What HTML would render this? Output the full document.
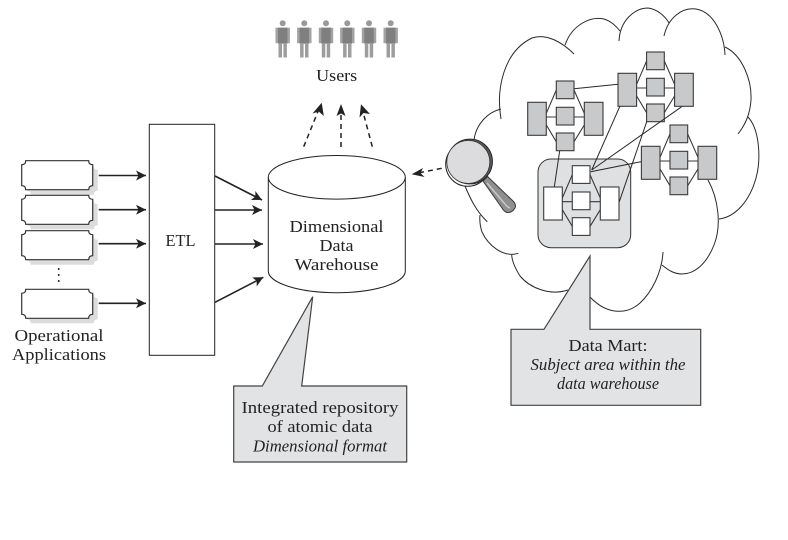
<!DOCTYPE html>
<html>
<head>
<meta charset="utf-8">
<style>
html,body{margin:0;padding:0;background:#fff;}
svg{display:block;}
text{font-family:"Liberation Serif",serif;font-size:16.5px;fill:#222;text-anchor:middle;}
.i{font-style:italic;}
</style>
</head>
<body>
<svg width="788" height="540" viewBox="0 0 788 540" xmlns="http://www.w3.org/2000/svg">
<defs>
  <marker id="a" markerWidth="12" markerHeight="10" refX="10" refY="5" orient="auto" markerUnits="userSpaceOnUse">
    <path d="M0,0 L10,5 L0,10 L2.5,5 Z" fill="#222"/>
  </marker>
  <path id="nb" d="M4,0 H67 Q67,4 71,4 V25 Q67,25 67,29 H4 Q4,25 0,25 V4 Q4,4 4,0 Z"/>
  <g id="app">
    <use href="#nb" x="5" y="5" fill="#dcdcdc"/>
    <use href="#nb" fill="#fff" stroke="#333" stroke-width="1.2"/>
  </g>
  <g id="mini" stroke="#3a3a3a" stroke-width="1.1">
    <path fill="none" d="M546.3,113.3 L556.3,90 M546.3,125 L556.3,141.7 M546.3,117 H556.3 M574,90 L584.3,113.3 M574,141.7 L584.3,125 M574,117 H584.3"/>
    <rect x="527.7" y="102.3" width="18.6" height="33"/>
    <rect x="584.3" y="102.3" width="18.7" height="33"/>
    <rect x="556.3" y="81" width="17.7" height="17.7"/>
    <rect x="556.3" y="107.3" width="17.7" height="17.7"/>
    <rect x="556.3" y="133" width="17.7" height="17.7"/>
  </g>
  <g id="man">
    <circle cx="0" cy="23.3" r="3" fill="#999"/>
    <rect x="-7.2" y="27.7" width="14.4" height="15.5" fill="#a2a2a2"/>
    <rect x="-4.7" y="27.7" width="9.4" height="16" fill="#7f7f7f"/>
    <rect x="-4.2" y="43" width="3.5" height="14.5" fill="#9d9d9d"/>
    <rect x="0.7" y="43" width="3.5" height="14.5" fill="#9d9d9d"/>
  </g>
</defs>

<!-- Users -->
<use href="#man" x="282.7"/><use href="#man" x="304.3"/><use href="#man" x="326"/>
<use href="#man" x="347.3"/><use href="#man" x="369"/><use href="#man" x="390.7"/>
<text x="336.7" y="81" textLength="41" lengthAdjust="spacingAndGlyphs">Users</text>

<!-- Cloud -->
<g fill="none" stroke="#2a2a2a" stroke-width="1">
  <path d="M501,119 C496,90 503,52 532,38 C546,33 562,42 574,54"/>
  <path d="M565,45 C572,25 590,16 604,19 C611,21 617,27 620,31"/>
  <path d="M619,41 C620,20 635,8 648,8 C657,9 665,16 669,23"/>
  <path d="M664,36 C668,18 682,7 696,9 C714,12 724,35 725,55"/>
  <path d="M725,47 C742,55 752,80 751,100 C750,115 745,125 738,134"/>
  <path d="M748,117 C760,130 761,160 756,178 C750,200 736,217 719,219"/>
  <path d="M708,180 C718,198 722,225 714,245 C706,265 694,274 682,274 C674,274 668,270 662,265"/>
  <path d="M663,252 C662,272 652,292 640,303 C628,314 608,316 590,297"/>
  <path d="M568,290 C550,296 530,288 520,276 C515,268 512,261 511.7,255"/>
  <path d="M518.3,253.3 C503,258 488,245 482,232 C480,226 479.5,220 480,215"/>
  <path d="M465,186 C470,198 476,211 487.3,221.7"/>
  <path d="M501,109 C488,112 476,124 474,140"/>
</g>

<!-- Data mart background -->
<rect x="538" y="159" width="92.7" height="88.7" rx="13" ry="13" fill="#dfe0e2" stroke="#333" stroke-width="1"/>

<!-- Mini diagrams -->
<use href="#mini" fill="#c8c9cb"/>
<use href="#mini" x="90.3" y="-29" fill="#c8c9cb"/>
<use href="#mini" x="113.7" y="44" fill="#c8c9cb"/>
<use href="#mini" x="16" y="84.7" fill="#fff"/>

<!-- Cross links -->
<g stroke="#2a2a2a" stroke-width="1" fill="none">
  <path d="M574,88.7 L618,84.3"/>
  <path d="M620,106 L591.7,170"/>
  <path d="M681.7,106.7 L591.7,170"/>
  <path d="M641,161.7 L590.7,171.7"/>
  <path d="M646.7,121.7 L619.3,201.7"/>
  <path d="M559.7,150.7 L554.3,187"/>
</g>

<!-- Callouts -->
<path d="M233.7,386 H262.3 L312.7,296.7 L301.7,386 H406.7 V462 H233.7 Z" fill="#e2e3e5" stroke="#444" stroke-width="1.2"/>
<path d="M511,329.3 H544 L590,256 V329.3 H700.7 V405.3 H511 Z" fill="#e2e3e5" stroke="#444" stroke-width="1.2"/>
<text x="320" y="413" textLength="157" lengthAdjust="spacingAndGlyphs">Integrated repository</text>
<text x="320" y="432" textLength="105" lengthAdjust="spacingAndGlyphs">of atomic data</text>
<text x="320" y="451.7" class="i" textLength="134" lengthAdjust="spacingAndGlyphs">Dimensional format</text>
<text x="608" y="351" textLength="79" lengthAdjust="spacingAndGlyphs">Data Mart:</text>
<text x="608" y="370" class="i" textLength="155" lengthAdjust="spacingAndGlyphs">Subject area within the</text>
<text x="608" y="389" class="i" textLength="102" lengthAdjust="spacingAndGlyphs">data warehouse</text>

<!-- App boxes -->
<use href="#app" x="21.7" y="160.7"/>
<use href="#app" x="21.7" y="195.3"/>
<use href="#app" x="21.7" y="230.7"/>
<use href="#app" x="21.7" y="289.3"/>
<path d="M58.7,268 V282" stroke="#333" stroke-width="1.6" stroke-dasharray="2 4" fill="none"/>
<text x="59" y="341" textLength="89" lengthAdjust="spacingAndGlyphs">Operational</text>
<text x="59" y="360" textLength="94" lengthAdjust="spacingAndGlyphs">Applications</text>

<!-- ETL -->
<rect x="149.3" y="124.3" width="65.4" height="231" fill="#fff" stroke="#222" stroke-width="1"/>
<text x="180.5" y="246" textLength="30" lengthAdjust="spacingAndGlyphs">ETL</text>

<!-- Solid arrows -->
<g stroke="#222" stroke-width="1.6" fill="none">
  <path d="M98.7,175.5 H146" marker-end="url(#a)"/>
  <path d="M98.7,209.7 H146" marker-end="url(#a)"/>
  <path d="M98.7,243.7 H146" marker-end="url(#a)"/>
  <path d="M98.7,303.3 H146" marker-end="url(#a)"/>
  <path d="M215,176 L262,200" marker-end="url(#a)"/>
  <path d="M215,210 H262" marker-end="url(#a)"/>
  <path d="M215,244 H263" marker-end="url(#a)"/>
  <path d="M215,302.3 L263.3,277.3" marker-end="url(#a)"/>
</g>

<!-- Cylinder -->
<path d="M268.3,177.3 V271 C268.3,283 299,292.7 336.8,292.7 C374.6,292.7 405.3,283 405.3,271 V177.3" fill="#fff" stroke="#222" stroke-width="1"/>
<ellipse cx="336.8" cy="177.3" rx="68.5" ry="21.8" fill="#fff" stroke="#222" stroke-width="1"/>
<text x="336.5" y="232" textLength="94" lengthAdjust="spacingAndGlyphs">Dimensional</text>
<text x="336.5" y="251" textLength="34" lengthAdjust="spacingAndGlyphs">Data</text>
<text x="336.5" y="270" textLength="84" lengthAdjust="spacingAndGlyphs">Warehouse</text>

<!-- Dashed arrows -->
<g stroke="#222" stroke-width="1.5" fill="none" stroke-dasharray="5 4">
  <path d="M303.7,146.7 L319,109"/>
  <path d="M341,147 V111"/>
  <path d="M372.3,146.7 L362.5,110"/>
  <path d="M441.7,168.3 L418,173"/>
</g>
<path d="M321.7,102.7 L323.8,116 L318.8,111.5 L312.5,113.5 Z" fill="#222"/>
<path d="M341,104 L345.5,116 L341,113.5 L336.5,116 Z" fill="#222"/>
<path d="M361,104.3 L370,114 L363.5,113 L359.5,117.5 Z" fill="#222"/>
<path d="M411.7,174.3 L423,168 L420.5,173 L424.5,177 Z" fill="#222"/>

<!-- Magnifier -->
<path d="M483,181 L487.5,176.5 L513.5,201.5 Q516.5,205 515,208 Q512,213 507,212.5 Q504,211.5 502,208 Z" fill="#8f8f8f" stroke="#3a3a3a" stroke-width="1"/>
<path d="M487,183 L505,204 Q507,207 510,208" stroke="#c9c9c9" stroke-width="1.5" fill="none"/>
<circle cx="467.7" cy="164.3" r="22" fill="#fff" stroke="#222" stroke-width="1"/>
<circle cx="470" cy="161.5" r="22.5" fill="#555" stroke="#222" stroke-width="0.8"/>
<circle cx="468.3" cy="162" r="21.5" fill="#dcdcde" stroke="#333" stroke-width="0.8"/>
</svg>
</body>
</html>
